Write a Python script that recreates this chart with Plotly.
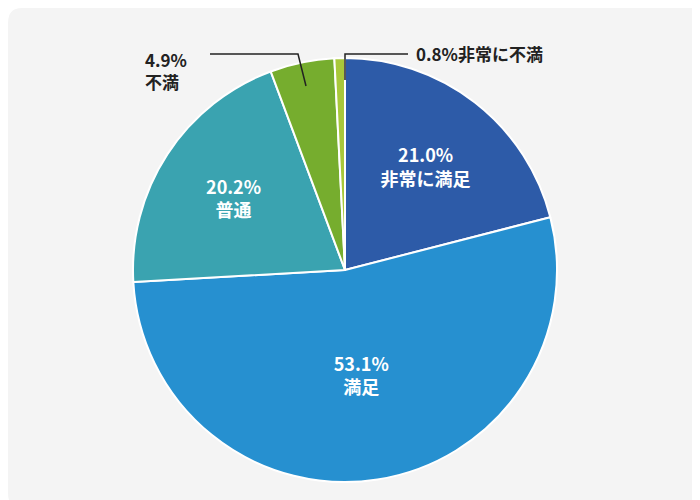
import plotly.graph_objects as go

labels = ["非常に満足", "満足", "普通", "不満", "非常に不満"]
values = [21.0, 53.1, 20.2, 4.9, 0.8]
colors = ["#2D5BA8", "#2690D0", "#3AA3B0", "#76AD2E", "#A8C83A"]
inside_text = ["21.0%<br>非常に満足", "53.1%<br>満足", "20.2%<br>普通", "", ""]

W, H = 700, 500
def px(x): return x / W
def py(y): return 1 - y / H

fig = go.Figure(go.Pie(
    labels=labels, values=values, sort=False, direction="clockwise", rotation=0,
    marker=dict(colors=colors, line=dict(color="white", width=2)),
    text=inside_text, textinfo="text", textposition="inside",
    insidetextorientation="horizontal",
    textfont=dict(color="white", size=18, family="Noto Sans CJK JP", weight="bold"),
    hoverinfo="label+percent", showlegend=False,
    domain=dict(x=[px(125), px(549)], y=[py(474), py(50)]),
))

shapes = [
    dict(type="path", xref="paper", yref="paper",
         path="M 0.02,0 L 0.98,0 Q 1,0 1,0.03 L 1,0.97 Q 1,1 0.98,1 L 0.02,1 Q 0,1 0,0.97 L 0,0.03 Q 0,0 0.02,0 Z",
         fillcolor="#F4F4F4", line=dict(width=0), layer="below"),
    dict(type="path", xref="paper", yref="paper",
         path=f"M {px(202)},{py(46)} L {px(290)},{py(46)} L {px(298)},{py(78)}",
         line=dict(color="#222", width=1.5)),
    dict(type="path", xref="paper", yref="paper",
         path=f"M {px(400)},{py(46)} L {px(337)},{py(46)} L {px(337)},{py(72)}",
         line=dict(color="#222", width=1.5)),
]
annotations = [
    dict(text="4.9%<br>不満", x=px(135), y=py(62), xref="paper", yref="paper",
         xanchor="left", yanchor="middle", align="left", showarrow=False,
         font=dict(size=17, color="#222", family="Noto Sans CJK JP", weight="bold")),
    dict(text="0.8%非常に不満", x=px(406), y=py(46), xref="paper", yref="paper",
         xanchor="left", yanchor="middle", showarrow=False,
         font=dict(size=17, color="#222", family="Noto Sans CJK JP", weight="bold")),
]

fig.update_layout(width=W, height=H, margin=dict(l=0, r=0, t=0, b=0),
                  paper_bgcolor="white", plot_bgcolor="white",
                  shapes=shapes, annotations=annotations)
fig.write_html("out.html")
